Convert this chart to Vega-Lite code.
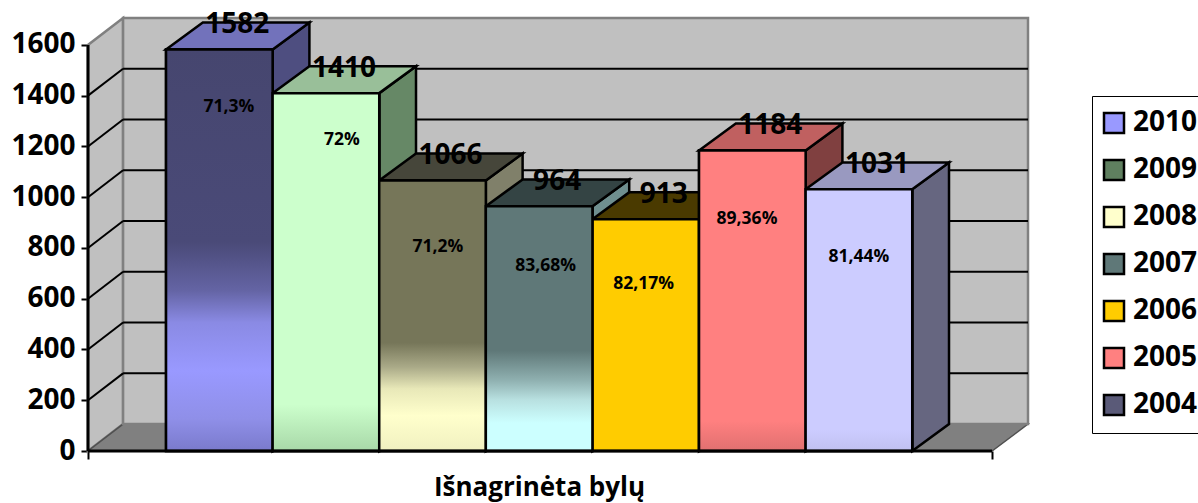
{
"$schema":"https://vega.github.io/schema/vega-lite/v6.json",
"width":940,"height":433,
"autosize":{"type":"none"},
"padding":{"left":88,"top":18,"right":170,"bottom":52},
"background":"white",
"config":{"view":{"stroke":null},"font":"Open Sans"},
"datasets":{
"bars":[
{"year":"2004","value":1582,"share":"71,3%","start":0,"end":1,"mid":0.5,"shareX":0.59,"shareY":1356},
{"year":"2009","value":1410,"share":"72%","start":1,"end":2,"mid":1.5,"shareX":1.65,"shareY":1226},
{"year":"2008","value":1066,"share":"71,2%","start":2,"end":3,"mid":2.5,"shareX":2.55,"shareY":804},
{"year":"2007","value":964,"share":"83,68%","start":3,"end":4,"mid":3.5,"shareX":3.56,"shareY":729},
{"year":"2006","value":913,"share":"82,17%","start":4,"end":5,"mid":4.5,"shareX":4.48,"shareY":658},
{"year":"2005","value":1184,"share":"89,36%","start":5,"end":6,"mid":5.5,"shareX":5.45,"shareY":914},
{"year":"2010","value":1031,"share":"81,44%","start":6,"end":7,"mid":6.5,"shareX":6.5,"shareY":765}
],
"grid":[{"tick":200,"back":306},{"tick":400,"back":506},{"tick":600,"back":706},{"tick":800,"back":906},{"tick":1000,"back":1106},{"tick":1200,"back":1306},{"tick":1400,"back":1506}],
"leftWall":[{"x":-0.732,"lo":0,"hi":1600},{"x":-0.403,"lo":106,"hi":1706}],
"floor":[{"x":-0.732,"lo":0,"hi":0},{"x":-0.403,"lo":0,"hi":106},{"x":7.749,"lo":0,"hi":106},{"x":8.086,"lo":106,"hi":106}],
"faces":[
{"face":"2004 side","x":1,"lo":0,"hi":1582},{"face":"2004 side","x":1.345,"lo":106,"hi":1688},
{"face":"2004 top","x":0,"lo":1582,"hi":1582},{"face":"2004 top","x":0.345,"lo":1582,"hi":1688},{"face":"2004 top","x":1,"lo":1582,"hi":1688},{"face":"2004 top","x":1.345,"lo":1688,"hi":1688},
{"face":"2009 side","x":2,"lo":0,"hi":1410},{"face":"2009 side","x":2.345,"lo":106,"hi":1516},
{"face":"2009 top","x":1,"lo":1410,"hi":1410},{"face":"2009 top","x":1.345,"lo":1410,"hi":1516},{"face":"2009 top","x":2,"lo":1410,"hi":1516},{"face":"2009 top","x":2.345,"lo":1516,"hi":1516},
{"face":"2008 side","x":3,"lo":0,"hi":1066},{"face":"2008 side","x":3.345,"lo":106,"hi":1172},
{"face":"2008 top","x":2,"lo":1066,"hi":1066},{"face":"2008 top","x":2.345,"lo":1066,"hi":1172},{"face":"2008 top","x":3,"lo":1066,"hi":1172},{"face":"2008 top","x":3.345,"lo":1172,"hi":1172},
{"face":"2007 side","x":4,"lo":0,"hi":964},{"face":"2007 side","x":4.345,"lo":106,"hi":1070},
{"face":"2007 top","x":3,"lo":964,"hi":964},{"face":"2007 top","x":3.345,"lo":964,"hi":1070},{"face":"2007 top","x":4,"lo":964,"hi":1070},{"face":"2007 top","x":4.345,"lo":1070,"hi":1070},
{"face":"2006 side","x":5,"lo":0,"hi":913},{"face":"2006 side","x":5.345,"lo":106,"hi":1019},
{"face":"2006 top","x":4,"lo":913,"hi":913},{"face":"2006 top","x":4.345,"lo":913,"hi":1019},{"face":"2006 top","x":5,"lo":913,"hi":1019},{"face":"2006 top","x":5.345,"lo":1019,"hi":1019},
{"face":"2005 side","x":6,"lo":0,"hi":1184},{"face":"2005 side","x":6.345,"lo":106,"hi":1290},
{"face":"2005 top","x":5,"lo":1184,"hi":1184},{"face":"2005 top","x":5.345,"lo":1184,"hi":1290},{"face":"2005 top","x":6,"lo":1184,"hi":1290},{"face":"2005 top","x":6.345,"lo":1290,"hi":1290},
{"face":"2010 side","x":7,"lo":0,"hi":1031},{"face":"2010 side","x":7.345,"lo":106,"hi":1137},
{"face":"2010 top","x":6,"lo":1031,"hi":1031},{"face":"2010 top","x":6.345,"lo":1031,"hi":1137},{"face":"2010 top","x":7,"lo":1031,"hi":1137},{"face":"2010 top","x":7.345,"lo":1137,"hi":1137}
]
},
"layer":[
{"data":{"name":"leftWall"},
 "mark":{"type":"area","fill":"#c0c0c0","stroke":"#808080","strokeWidth":2.5},
 "encoding":{
  "x":{"field":"x","type":"quantitative","scale":{"domain":[-0.732,8.086],"nice":false,"zero":false},
   "axis":{"values":[-0.732,7.749],"labels":false,"domain":false,"grid":false,"ticks":true,"tickSize":8,"tickColor":"black","tickWidth":2,"title":"Išnagrinėta bylų","titleFontSize":26,"titleFontWeight":"bold","titleColor":"black","titleFont":"Open Sans","titleX":451,"titleY":44.5,"titleBaseline":"alphabetic","titleAlign":"center"}},
  "y":{"field":"lo","type":"quantitative","scale":{"domain":[0,1706],"nice":false,"zero":false},"stack":null,
   "axis":{"values":[0,200,400,600,800,1000,1200,1400,1600],"format":"d","grid":false,"domain":false,"tickSize":7,"tickColor":"black","tickWidth":2,"labelFontSize":28,"labelFontWeight":"bold","labelColor":"black","labelFont":"Open Sans","labelPadding":6,"title":null}},
  "y2":{"field":"hi"}
 }},
{"data":{"name":"floor"},
 "mark":{"type":"area","fill":"#808080","stroke":"#505050","strokeWidth":1.5},
 "encoding":{
  "x":{"field":"x","type":"quantitative"},
  "y":{"field":"lo","type":"quantitative","stack":null},
  "y2":{"field":"hi"}
 }},
{"mark":{"type":"rect","fill":"#c0c0c0","stroke":"#808080","strokeWidth":2.5},
 "data":{"values":[{"wall":"back"}]},
 "encoding":{
  "x":{"datum":-0.403,"type":"quantitative"},
  "x2":{"datum":8.086},
  "y":{"datum":106,"type":"quantitative"},
  "y2":{"datum":1706}
 }},
{"data":{"name":"grid"},
 "mark":{"type":"rule","color":"black","strokeWidth":2},
 "encoding":{
  "x":{"datum":-0.403,"type":"quantitative"},
  "x2":{"datum":8.086},
  "y":{"field":"back","type":"quantitative"}
 }},
{"data":{"name":"grid"},
 "mark":{"type":"rule","color":"black","strokeWidth":2},
 "encoding":{
  "x":{"datum":-0.732,"type":"quantitative"},
  "x2":{"datum":-0.403},
  "y":{"field":"tick","type":"quantitative"},
  "y2":{"field":"back"}
 }},
{"data":{"name":"faces"},
 "mark":{"type":"area","stroke":"black","strokeWidth":2.5,"opacity":1},
 "encoding":{
  "x":{"field":"x","type":"quantitative"},
  "y":{"field":"lo","type":"quantitative","stack":null},
  "y2":{"field":"hi"},
  "color":{"field":"face","type":"nominal","legend":null,"scale":{
   "domain":["2004 side","2004 top","2009 side","2009 top","2008 side","2008 top","2007 side","2007 top","2006 side","2006 top","2005 side","2005 top","2010 side","2010 top"],
   "range":["#4e4e80","#7272bb","#668866","#99bf99","#80806a","#46463a","#6f8f8f","#344444","#806600","#4a3a00","#804040","#c06060","#666680","#9999c0"]}}
 }},
{"data":{"name":"bars"},
 "mark":{"type":"rect","stroke":"black","strokeWidth":2.5},
 "encoding":{
  "x":{"field":"start","type":"quantitative"},
  "x2":{"field":"end"},
  "y":{"field":"value","type":"quantitative"},
  "y2":{"datum":0},
  "fill":{"field":"year","type":"nominal","scale":{
    "domain":["2010","2009","2008","2007","2006","2005","2004"],
    "range":["#9999ff","#5f7f5f","#ffffcc","#5f7878","#ffcc00","#ff8080","#5a5a78"]},
   "legend":{"orient":"none","legendX":1004,"legendY":78,"title":null,"symbolType":"square","symbolSize":400,"symbolStrokeColor":"black","symbolStrokeWidth":2.5,"labelFontSize":28,"labelFontWeight":"bold","labelColor":"black","labelFont":"Open Sans","rowPadding":17,"padding":13,"symbolOffset":-5,"labelOffset":5,"strokeColor":"black","fillColor":"white","symbolOpacity":1}}
 }},
{"data":{"name":"bars"},"transform":[{"filter":"datum.year=='2004'"}],
 "mark":{"type":"rect","stroke":"black","strokeWidth":2.5,"color":{"gradient":"linear","x1":0,"y1":0,"x2":0,"y2":1,"stops":[{"offset":0,"color":"#46466f"},{"offset":0.48,"color":"#4a4a78"},{"offset":0.6,"color":"#6464a4"},{"offset":0.68,"color":"#8a8ae4"},{"offset":0.8,"color":"#9999ff"},{"offset":0.92,"color":"#8f8fe8"},{"offset":1,"color":"#7a7acc"}]}},
 "encoding":{"x":{"field":"start","type":"quantitative"},"x2":{"field":"end"},"y":{"field":"value","type":"quantitative"},"y2":{"datum":0}}},
{"data":{"name":"bars"},"transform":[{"filter":"datum.year=='2009'"}],
 "mark":{"type":"rect","stroke":"black","strokeWidth":2.5,"color":{"gradient":"linear","x1":0,"y1":0,"x2":0,"y2":1,"stops":[{"offset":0,"color":"#ccffcc"},{"offset":0.87,"color":"#ccffcc"},{"offset":1,"color":"#a8d8a8"}]}},
 "encoding":{"x":{"field":"start","type":"quantitative"},"x2":{"field":"end"},"y":{"field":"value","type":"quantitative"},"y2":{"datum":0}}},
{"data":{"name":"bars"},"transform":[{"filter":"datum.year=='2008'"}],
 "mark":{"type":"rect","stroke":"black","strokeWidth":2.5,"color":{"gradient":"linear","x1":0,"y1":0,"x2":0,"y2":1,"stops":[{"offset":0,"color":"#767659"},{"offset":0.6,"color":"#767659"},{"offset":0.69,"color":"#aaaa88"},{"offset":0.77,"color":"#e8e8b8"},{"offset":0.87,"color":"#ffffcc"},{"offset":1,"color":"#f0f0c0"}]}},
 "encoding":{"x":{"field":"start","type":"quantitative"},"x2":{"field":"end"},"y":{"field":"value","type":"quantitative"},"y2":{"datum":0}}},
{"data":{"name":"bars"},"transform":[{"filter":"datum.year=='2007'"}],
 "mark":{"type":"rect","stroke":"black","strokeWidth":2.5,"color":{"gradient":"linear","x1":0,"y1":0,"x2":0,"y2":1,"stops":[{"offset":0,"color":"#5f7878"},{"offset":0.59,"color":"#5f7878"},{"offset":0.71,"color":"#8fb0b0"},{"offset":0.79,"color":"#b8e0e0"},{"offset":0.885,"color":"#ccffff"},{"offset":1,"color":"#ccffff"}]}},
 "encoding":{"x":{"field":"start","type":"quantitative"},"x2":{"field":"end"},"y":{"field":"value","type":"quantitative"},"y2":{"datum":0}}},
{"data":{"name":"bars"},"transform":[{"filter":"datum.year=='2005'"}],
 "mark":{"type":"rect","stroke":"black","strokeWidth":2.5,"color":{"gradient":"linear","x1":0,"y1":0,"x2":0,"y2":1,"stops":[{"offset":0,"color":"#ff8080"},{"offset":0.9,"color":"#ff8080"},{"offset":1,"color":"#e07070"}]}},
 "encoding":{"x":{"field":"start","type":"quantitative"},"x2":{"field":"end"},"y":{"field":"value","type":"quantitative"},"y2":{"datum":0}}},
{"data":{"name":"bars"},"transform":[{"filter":"datum.year=='2010'"}],
 "mark":{"type":"rect","stroke":"black","strokeWidth":2.5,"color":{"gradient":"linear","x1":0,"y1":0,"x2":0,"y2":1,"stops":[{"offset":0,"color":"#ccccff"},{"offset":0.92,"color":"#ccccff"},{"offset":1,"color":"#c0c0f0"}]}},
 "encoding":{"x":{"field":"start","type":"quantitative"},"x2":{"field":"end"},"y":{"field":"value","type":"quantitative"},"y2":{"datum":0}}},
{"data":{"values":[{"edge":"base"}]},
 "mark":{"type":"rule","color":"black","strokeWidth":3},
 "encoding":{
  "x":{"datum":-0.732,"type":"quantitative"},
  "x2":{"datum":7.749},
  "y":{"datum":0,"type":"quantitative"}
 }},
{"data":{"values":[{"at":-0.732,"from":0,"to":1600}]},
 "mark":{"type":"rule","color":"black","strokeWidth":3},
 "encoding":{
  "x":{"field":"at","type":"quantitative"},
  "y":{"field":"from","type":"quantitative"},
  "y2":{"field":"to"}
 }},
{"data":{"name":"bars"},
 "mark":{"type":"text","fontSize":28,"fontWeight":"bold","color":"black","font":"Open Sans","baseline":"alphabetic","align":"center","dx":18,"dy":-16},
 "encoding":{
  "x":{"field":"mid","type":"quantitative"},
  "y":{"field":"value","type":"quantitative"},
  "text":{"field":"value","type":"quantitative"}
 }},
{"data":{"name":"bars"},
 "mark":{"type":"text","fontSize":17.5,"fontWeight":"bold","color":"black","font":"Open Sans","baseline":"middle","align":"center"},
 "encoding":{
  "x":{"field":"shareX","type":"quantitative"},
  "y":{"field":"shareY","type":"quantitative"},
  "text":{"field":"share","type":"nominal"}
 }}
]
}
